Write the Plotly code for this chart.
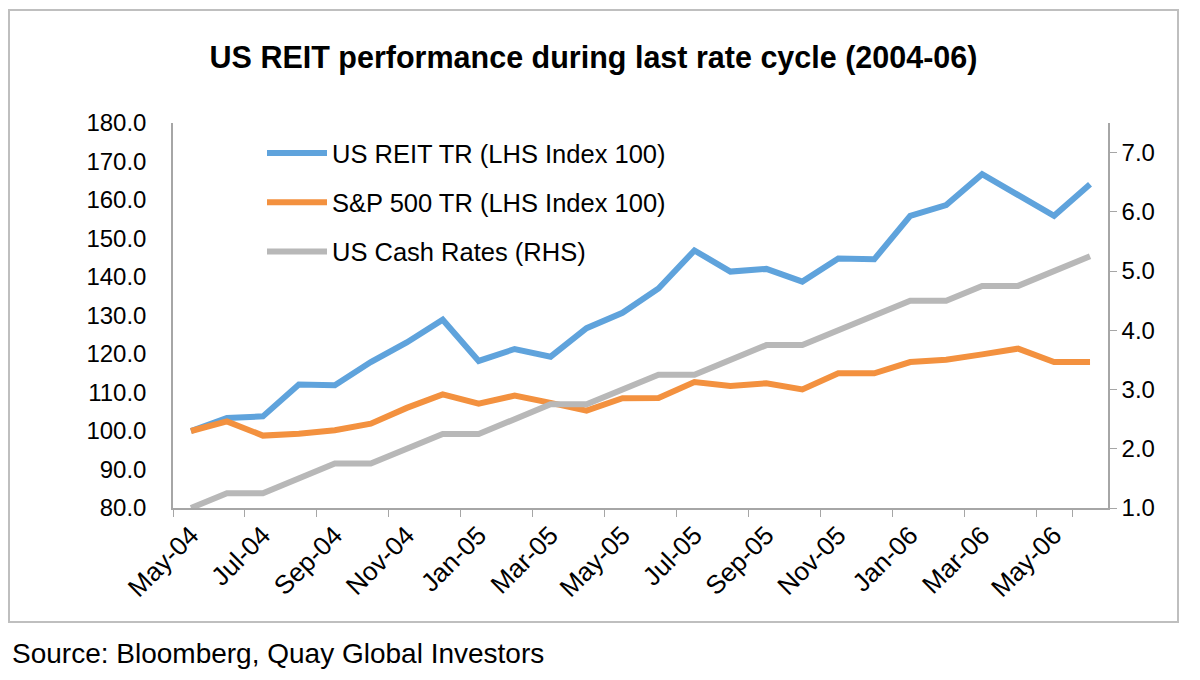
import plotly.graph_objects as go

months = [
    "May-04", "Jun-04", "Jul-04", "Aug-04", "Sep-04", "Oct-04", "Nov-04", "Dec-04",
    "Jan-05", "Feb-05", "Mar-05", "Apr-05", "May-05", "Jun-05", "Jul-05", "Aug-05",
    "Sep-05", "Oct-05", "Nov-05", "Dec-05", "Jan-06", "Feb-06", "Mar-06", "Apr-06",
    "May-06", "Jun-06",
]
reit_tr = [
    100.0, 103.4, 103.8, 112.1, 111.9, 117.9, 123.0, 128.9, 118.2, 121.3, 119.3, 126.7, 130.7,
    137.0, 146.9, 141.4, 142.1, 138.8, 144.8, 144.6, 155.9, 158.7, 166.7, 161.1, 155.9, 164.1,
]
spx_tr = [
    100.0, 102.5, 98.8, 99.3, 100.2, 101.9, 106.0, 109.5, 107.1, 109.2, 107.3, 105.3, 108.5,
    108.6, 112.7, 111.7, 112.4, 110.8, 115.0, 115.0, 117.9, 118.5, 119.9, 121.4, 117.9, 117.9,
]
cash_rate = [
    1.00, 1.25, 1.25, 1.50, 1.75, 1.75, 2.00, 2.25, 2.25, 2.50, 2.75, 2.75, 3.00,
    3.25, 3.25, 3.50, 3.75, 3.75, 4.00, 4.25, 4.50, 4.50, 4.75, 4.75, 5.00, 5.25,
]
left_ticks = [80 + 10 * i for i in range(11)]
right_ticks = [1 + i for i in range(7)]

# the page body keeps its default 8px margin, so the figure is drawn 8px smaller
OFF = 8
W, H = 1200 - OFF, 680 - OFF
L, R, T, B = 173 - OFF, 1108 - OFF, 123 - OFF, 508 - OFF  # plot area in px
AXIS = "#a6a6a6"
FONT = "Liberation Sans, Arial, sans-serif"


def px_x(v):
    return (v - L) / (R - L)


def px_y(v):
    return (B - v) / (B - T)


fig = go.Figure()
fig.add_trace(go.Scatter(x=months, y=reit_tr, name="US REIT TR (LHS Index 100)",
                         mode="lines", line=dict(color="#5fa3dc", width=6), legendgroup="a"))
fig.add_trace(go.Scatter(x=months, y=spx_tr, name="S&P 500 TR (LHS Index 100)",
                         mode="lines", line=dict(color="#f3913f", width=6), legendgroup="b"))
fig.add_trace(go.Scatter(x=months, y=cash_rate, name="US Cash Rates (RHS)", yaxis="y2",
                         mode="lines", line=dict(color="#b8b8b8", width=6), legendgroup="c"))

fig.update_layout(
    width=W, height=H,
    margin=dict(l=L, r=W - R, t=T, b=H - B),
    paper_bgcolor="white",
    plot_bgcolor="white",
    font=dict(family=FONT, color="black", size=24),
    title=dict(text="<b>US REIT performance during last rate cycle (2004-06)</b>",
               x=(593.5 - OFF) / W, xanchor="center", y=1 - (57 - OFF) / H, yanchor="middle",
               font=dict(size=30.5, family=FONT)),
    showlegend=True,
    legend=dict(x=px_x(254), y=px_y(130 - OFF), xanchor="left", yanchor="top",
                bgcolor="rgba(0,0,0,0)", font=dict(size=25.5), tracegroupgap=13,
                itemwidth=60),
    xaxis=dict(
        type="category", range=[-0.5, len(months) - 0.5],
        tickmode="array", tickvals=months[::2], ticktext=months[::2],
        tickson="boundaries", ticks="outside", ticklen=7, tickcolor=AXIS,
        tickangle=-45, tickfont=dict(size=26),
        showline=True, linecolor=AXIS, linewidth=1.5, showgrid=False, zeroline=False,
    ),
    yaxis=dict(
        range=[80, 180], tickvals=left_ticks, tickformat=".1f", ticks="",
        ticklabelstandoff=20,
        showline=True, linecolor=AXIS, linewidth=1.5, showgrid=False, zeroline=False,
        tickfont=dict(size=24),
    ),
    yaxis2=dict(
        range=[1, 7.5], tickvals=right_ticks, tickformat=".1f", overlaying="y", side="right",
        ticks="outside", ticklen=7, tickcolor=AXIS, tickprefix="\u2002",
        showline=True, linecolor=AXIS, linewidth=1.5, showgrid=False, zeroline=False,
        tickfont=dict(size=24),
    ),
    shapes=[dict(type="rect", xref="paper", yref="paper",
                 x0=px_x(1), x1=px_x(1178 - OFF), y0=px_y(622 - OFF), y1=px_y(10 - OFF),
                 line=dict(color="#bfbfbf", width=2), fillcolor="rgba(0,0,0,0)", layer="below")],
    annotations=[dict(text="Source: Bloomberg, Quay Global Investors", xref="paper", yref="paper",
                      x=px_x(10 - OFF), y=px_y(653 - OFF), xanchor="left", yanchor="middle",
                      showarrow=False, font=dict(size=28, family=FONT))],
)

fig.write_html("out.html")
